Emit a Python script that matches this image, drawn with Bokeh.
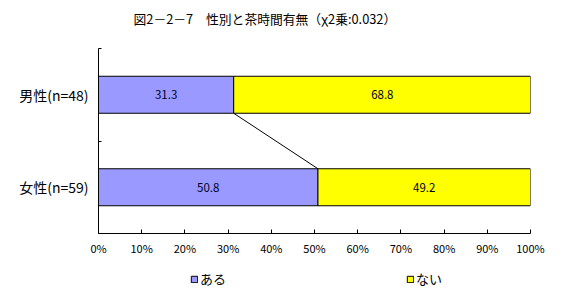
from bokeh.plotting import figure
from bokeh.layouts import column
from bokeh.models import Range1d, FixedTicker, Legend, LegendItem, ColumnDataSource, Label
from bokeh.embed import file_html
from bokeh.resources import INLINE

# ---- data ----
categories = ["女性(n=59)", "男性(n=48)"]
aru = [50.8, 31.3]      # ある
nai = [49.2, 68.8]      # ない
series_names = ["ある", "ない"]
x_ticks = [0, 10, 20, 30, 40, 50, 60, 70, 80, 90, 100]
x_tick_labels = ["0%", "10%", "20%", "30%", "40%", "50%", "60%", "70%", "80%", "90%", "100%"]
title_text = "図2－2－7　性別と茶時間有無（χ2乗:0.032）"

FONT = "Noto Sans CJK JP"
BLUE = "#9999FF"
YELLOW = "#FFFF00"

pos = [i + 0.5 for i in range(len(categories))]
bar_h = 0.4

src = ColumnDataSource(dict(y=pos, aru_end=aru,
                            nai_end=[a + b for a, b in zip(aru, nai)],
                            zero=[0] * len(aru)))

# ---- title strip ----
pt = figure(width=567, height=48, output_backend="svg", toolbar_location=None,
            x_range=Range1d(0, 1), y_range=Range1d(0, 1), min_border=0, title=None)
pt.outline_line_color = None
pt.axis.visible = False
pt.grid.visible = False
pt.add_layout(Label(x=35, y=30, x_units="screen", y_units="screen", text=title_text,
                    text_font=FONT, text_font_size="12.8px", text_color="black",
                    text_baseline="middle", text_align="left"))

# ---- main chart ----
p = figure(width=567, height=214, output_backend="svg", toolbar_location=None,
           x_range=Range1d(0, 100), y_range=Range1d(0, len(categories)), title=None,
           min_border_left=98, min_border_right=37, min_border_top=0, min_border_bottom=29)
p.outline_line_color = None
p.background_fill_color = "white"
p.xgrid.visible = False
p.ygrid.visible = False

r1 = p.hbar(y="y", left="zero", right="aru_end", height=bar_h, source=src,
            fill_color=BLUE, line_color="black", line_width=1)
r2 = p.hbar(y="y", left="aru_end", right="nai_end", height=bar_h, source=src,
            fill_color=YELLOW, line_color="black", line_width=1)

# connector line between the "ある" segment ends
p.line(x=[aru[1], aru[0]], y=[pos[1] - bar_h / 2, pos[0] + bar_h / 2],
       line_color="black", line_width=1)

# value labels
lab_x = [a / 2 for a in aru] + [a + b / 2 for a, b in zip(aru, nai)]
lab_y = pos + pos
lab_t = [f"{v:.1f}" for v in aru] + [f"{v:.1f}" for v in nai]
p.text(x=lab_x, y=lab_y, text=lab_t, text_align="center", text_baseline="middle",
       text_font_size="11.5px", text_font={"value": FONT}, text_color="#000020")

# x axis
p.xaxis.ticker = FixedTicker(ticks=x_ticks, minor_ticks=[])
p.xaxis.major_label_overrides = {t: l for t, l in zip(x_ticks, x_tick_labels)}
p.xaxis.major_tick_in = 4
p.xaxis.major_tick_out = 0
p.xaxis.major_tick_line_color = "black"
p.xaxis.axis_line_color = "black"
p.xaxis.major_label_standoff = 6
p.xaxis.major_label_text_font = FONT
p.xaxis.major_label_text_font_size = "11px"
p.xaxis.major_label_text_color = "black"

# y axis
p.yaxis.ticker = FixedTicker(ticks=pos, minor_ticks=list(range(len(categories) + 1)))
p.yaxis.major_label_overrides = {t: c for t, c in zip(pos, categories)}
p.yaxis.major_tick_line_color = None
p.yaxis.major_tick_in = 0
p.yaxis.major_tick_out = 0
p.yaxis.minor_tick_in = 3
p.yaxis.minor_tick_out = 0
p.yaxis.minor_tick_line_color = "black"
p.yaxis.axis_line_color = "black"
p.yaxis.major_label_standoff = 10
p.yaxis.major_label_text_font = FONT
p.yaxis.major_label_text_font_size = "14px"
p.yaxis.major_label_text_color = "black"

# ---- legend strip ----
p2 = figure(width=567, height=38, output_backend="svg", toolbar_location=None,
            x_range=Range1d(0, 1), y_range=Range1d(0, 1), min_border=0, title=None)
p2.outline_line_color = None
p2.axis.visible = False
p2.grid.visible = False
l1 = p2.hbar(y="y", left="zero", right="aru_end", height=bar_h, source=src,
             fill_color=BLUE, line_color="black", visible=False)
l2 = p2.hbar(y="y", left="aru_end", right="nai_end", height=bar_h, source=src,
             fill_color=YELLOW, line_color="black", visible=False)
legend = Legend(items=[LegendItem(label=series_names[0], renderers=[l1]),
                       LegendItem(label=series_names[1], renderers=[l2])],
                orientation="horizontal", location=(92, 12),
                glyph_width=8, glyph_height=8, label_standoff=2, label_width=30,
                label_height=13, spacing=176, padding=0, margin=0,
                inactive_fill_alpha=0,
                label_text_font=FONT, label_text_font_size="13px",
                label_text_color="black",
                border_line_color=None, background_fill_alpha=0)
p2.add_layout(legend, "center")

layout = column(pt, p, p2, spacing=0)
open("out.html", "w").write(file_html(layout, INLINE))
